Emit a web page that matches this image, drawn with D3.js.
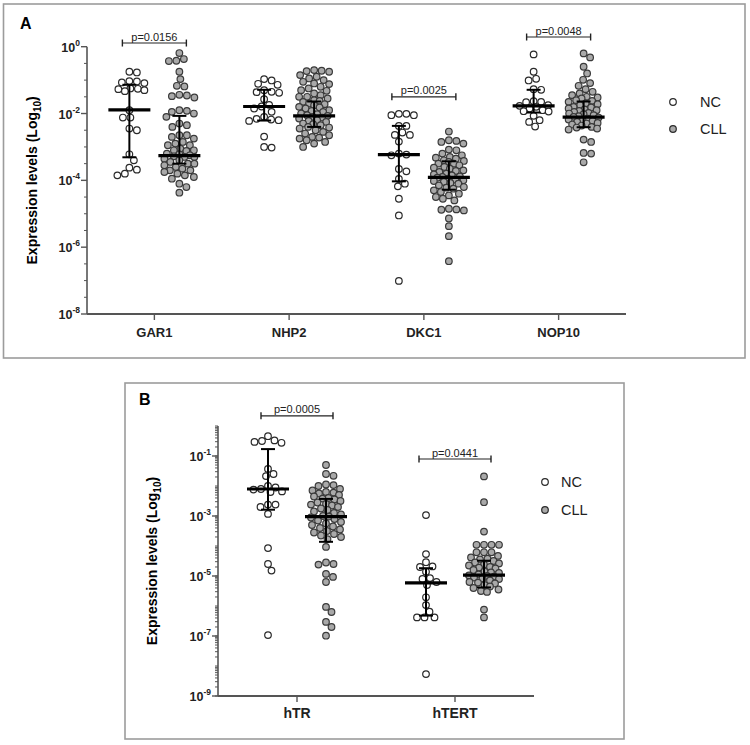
<!DOCTYPE html>
<html><head><meta charset="utf-8">
<script src="https://cdn.jsdelivr.net/npm/d3@7"></script>
<style>body{margin:0;background:#fff} svg{display:block} text{font-family:"Liberation Sans",Arial,sans-serif}</style>
</head><body><svg id="c" width="750" height="745"></svg>
<script>
// ---------- DATA (log10 of expression level) ----------
const genesA = ["GAR1","NHP2","DKC1","NOP10"];
const genesB = ["hTR","hTERT"];
const groups = ["NC","CLL"];
const yTicksA = [0,-2,-4,-6,-8];
const yTicksB = [-1,-3,-5,-7,-9];

const gar1NC = [-0.77,-0.75,-1.04,-1.07,-1.03,-1.09,-1.26,-1.3,-1.27,-1.33,-1.25,-1.9,-2.12,-2.12,-2.5,-2.45,-3.22,-3.4,-3.68,-3.85,-3.8,-3.62];
const gar1CLL = [-0.19,-0.43,-0.42,-0.37,-0.75,-0.97,-1.17,-1.19,-1.44,-1.48,-1.52,-1.46,-1.9,-1.95,-2.0,-1.92,-2.1,-2.4,-2.35,-2.3,-2.65,-2.7,-2.75,-2.65,-2.95,-2.95,-2.9,-2.85,-3.1,-3.1,-3.12,-3.05,-3.2,-3.25,-3.3,-3.28,-3.22,-3.35,-3.3,-3.4,-3.45,-3.5,-3.55,-3.6,-3.5,-3.65,-3.7,-3.75,-3.8,-3.85,-3.7,-3.9,-3.95,-4.1,-4.2,-4.37];
const nhp2NC = [-0.97,-1.01,-1.14,-1.11,-1.3,-1.35,-1.36,-1.38,-1.57,-1.74,-1.79,-1.85,-1.95,-2.1,-2.16,-2.18,-2.2,-2.22,-2.69,-3.02,-3.0];
const nhp2CLL = [-0.7,-0.72,-0.75,-0.73,-0.85,-0.9,-0.95,-1.0,-1.05,-1.1,-1.12,-1.2,-1.25,-1.3,-1.32,-1.4,-1.45,-1.5,-1.5,-1.55,-1.6,-1.62,-1.65,-1.7,-1.72,-1.75,-1.8,-1.82,-1.85,-1.9,-1.92,-1.95,-2.0,-2.02,-2.05,-2.07,-2.1,-2.12,-2.15,-2.2,-2.22,-2.25,-2.3,-2.32,-2.35,-2.4,-2.42,-2.45,-2.5,-2.55,-2.6,-2.65,-2.7,-2.75,-2.72,-2.8,-2.85,-2.9,-3.0];
const dkc1NC = [-2.05,-2.01,-2.01,-2.05,-2.37,-2.37,-2.64,-2.64,-2.57,-2.84,-3.2,-3.25,-3.23,-3.73,-3.66,-3.96,-4.1,-4.18,-4.55,-5.05,-7.01];
const dkc1CLL = [-2.54,-2.8,-2.85,-2.9,-2.82,-3.1,-3.08,-3.2,-3.25,-3.3,-3.32,-3.35,-3.4,-3.42,-3.45,-3.5,-3.5,-3.55,-3.6,-3.62,-3.65,-3.7,-3.72,-3.75,-3.8,-3.82,-3.85,-3.88,-3.9,-3.92,-3.95,-3.98,-4.0,-4.02,-4.05,-4.08,-4.1,-4.15,-4.2,-4.22,-4.25,-4.3,-4.35,-4.4,-4.45,-4.5,-4.55,-4.6,-4.85,-4.88,-4.9,-4.87,-5.14,-5.37,-5.67,-6.42];
const nop10NC = [-0.23,-0.75,-0.96,-1.01,-1.29,-1.27,-1.63,-1.66,-1.65,-1.77,-1.8,-1.9,-1.93,-1.94,-2.07,-2.2,-2.25,-2.39,-1.85,-1.75];
const nop10CLL = [-0.2,-0.32,-0.6,-0.8,-0.99,-1.09,-1.17,-1.27,-1.35,-1.4,-1.45,-1.5,-1.52,-1.55,-1.6,-1.62,-1.65,-1.7,-1.72,-1.75,-1.8,-1.82,-1.85,-1.88,-1.9,-1.92,-1.95,-1.98,-2.0,-2.02,-2.05,-2.08,-2.1,-2.12,-2.15,-2.18,-2.2,-2.22,-2.25,-2.28,-2.3,-2.33,-2.36,-2.4,-2.42,-2.45,-2.48,-2.78,-2.85,-3.18,-3.2,-3.46];
const htrNC = [-0.34,-0.53,-0.5,-0.56,-0.48,-1.43,-1.67,-1.6,-2.0,-2.05,-2.1,-2.12,-2.18,-2.2,-2.62,-2.62,-2.7,-2.93,-4.07,-4.6,-4.82,-6.97];
const htrCLL = [-1.3,-1.66,-1.6,-1.97,-1.95,-2.0,-2.1,-2.15,-2.2,-2.22,-2.25,-2.3,-2.35,-2.4,-2.42,-2.45,-2.5,-2.55,-2.6,-2.62,-2.65,-2.7,-2.75,-2.8,-2.85,-2.9,-2.95,-3.0,-3.02,-3.05,-3.1,-3.15,-3.2,-3.25,-3.3,-3.35,-3.4,-3.45,-3.5,-3.55,-3.6,-3.65,-3.7,-3.77,-4.03,-4.6,-4.55,-4.62,-4.93,-5.03,-5.2,-6.2,-6.03,-6.53,-6.7,-6.99];
const htertNC = [-2.97,-4.27,-4.54,-4.7,-4.68,-4.86,-5.1,-5.07,-5.2,-5.3,-5.71,-5.97,-6.19,-6.38,-6.38,-6.38,-8.27];
const htertCLL = [-1.68,-2.54,-3.52,-3.96,-3.96,-3.96,-3.96,-4.21,-4.21,-4.21,-4.33,-4.38,-4.42,-4.45,-4.5,-4.55,-4.58,-4.62,-4.65,-4.7,-4.72,-4.75,-4.8,-4.85,-4.88,-4.9,-4.95,-4.98,-5.0,-5.02,-5.05,-5.08,-5.1,-5.15,-5.2,-5.22,-5.25,-5.3,-5.35,-5.4,-5.45,-5.5,-5.53,-6.12,-6.38];

// median and interquartile range (log10), order NC, CLL per gene
const medianA = [[-1.89,-3.26],[-1.79,-2.07],[-3.23,-3.91],[-1.77,-2.11]];
const q3A     = [[-1.14,-2.07],[-1.29,-1.64],[-2.37,-3.43],[-1.29,-1.64]];
const q1A     = [[-3.31,-3.50],[-2.21,-2.40],[-4.03,-4.28],[-1.97,-2.41]];
const medianB = [[-2.10,-3.02],[-5.23,-4.97]];
const q3B     = [[-0.77,-2.43],[-4.74,-4.49]];
const q1B     = [[-2.79,-3.86],[-6.32,-5.38]];

// p-value brackets: gene, label, level (log10)
const pA = [["GAR1","p=0.0156",0.11],["DKC1","p=0.0025",-1.5],["NOP10","p=0.0048",0.29]];
const pB = [["hTR","p=0.0005",0.34],["hTERT","p=0.0441",-1.1]];

const dataA = [[gar1NC,gar1CLL],[nhp2NC,nhp2CLL],[dkc1NC,dkc1CLL],[nop10NC,nop10CLL]];
const dataB = [[htrNC,htrCLL],[htertNC,htertCLL]];

// ---------- DRAW ----------
const svg = d3.select("#c");
const R = 3.3, MIND = 7.4, W = 15;

function swarm(vals, y, cx){
  const pts = vals.map(v=>({v, y:y(Math.pow(10,v))})).sort((a,b)=>a.y-b.y);
  const placed=[];
  const cands=[0];
  for(let s=0.5;s<=W;s+=0.5){cands.push(s,-s);}
  for(const p of pts){
    let bestX=cx, bestD=-1, found=false;
    for(const off of cands){
      const x=cx+off;
      let md=1e9;
      for(const q of placed){
        const dx=q.x-x, dy=q.y-p.y;
        const d=Math.sqrt(dx*dx+dy*dy);
        if(d<md)md=d;
      }
      if(md>=MIND){p.x=x;found=true;break;}
      if(md>bestD+0.4){bestD=md;bestX=x;}
    }
    if(!found)p.x=bestX;
    placed.push(p);
  }
  return placed;
}

function panel(cfg){
  const g = svg.append("g");
  const x = d3.scaleBand().domain(cfg.genes).range(cfg.xr);
  const y = d3.scaleLog().domain(cfg.ydom).range(cfg.yr);
  const mid = d => x(d)+x.bandwidth()/2;
  g.append("rect").attr("x",cfg.box[0]).attr("y",cfg.box[1]).attr("width",cfg.box[2]).attr("height",cfg.box[3])
    .attr("fill","none").attr("stroke","#9c9c9c").attr("stroke-width",1.6);
  g.append("text").attr("x",cfg.lab[0]).attr("y",cfg.lab[1]).text(cfg.label)
    .attr("font-size",16).attr("font-weight","bold");
  const ax = cfg.xr[0];
  g.append("line").attr("x1",ax).attr("x2",ax).attr("y1",cfg.yr[0]).attr("y2",cfg.yr[1]).attr("stroke","#555").attr("stroke-width",1.6);
  g.selectAll(".mn").data(cfg.minor).join("line").attr("x1",ax-3).attr("x2",ax).attr("y1",d=>y(d)).attr("y2",d=>y(d)).attr("stroke","#555").attr("stroke-width",1);
  g.selectAll(".mj").data(cfg.ticks).join("line").attr("x1",ax-6).attr("x2",ax).attr("y1",d=>y(Math.pow(10,d))).attr("y2",d=>y(Math.pow(10,d))).attr("stroke","#555").attr("stroke-width",1.4);
  const tl = g.selectAll(".tl").data(cfg.ticks).join("text").attr("x",ax-7).attr("y",d=>y(Math.pow(10,d))+5)
    .attr("text-anchor","end").attr("font-size",12.5).attr("font-weight","bold").attr("fill","#222");
  tl.append("tspan").text("10");
  tl.append("tspan").text(d=>d===0?"0":"-"+(-d)).attr("font-size",8.5).attr("dy",-6);
  const yt = g.append("text").attr("transform",`translate(${cfg.ytx},${(cfg.yr[0]+cfg.yr[1])/2}) rotate(-90)`)
    .attr("text-anchor","middle").attr("font-size",14).attr("font-weight","bold");
  yt.append("tspan").text("Expression levels (Log");
  yt.append("tspan").text("10").attr("font-size",10).attr("dy",4);
  yt.append("tspan").text(")").attr("dy",-4);
  g.append("line").attr("x1",cfg.xr[0]).attr("x2",cfg.xr[1]).attr("y1",cfg.yr[0]).attr("y2",cfg.yr[0]).attr("stroke","#555").attr("stroke-width",1.8);
  g.selectAll(".xt").data(cfg.genes).join("line").attr("x1",mid).attr("x2",mid).attr("y1",cfg.yr[0]).attr("y2",cfg.yr[0]+6).attr("stroke","#555").attr("stroke-width",1.4);
  g.selectAll(".xl").data(cfg.genes).join("text").attr("x",mid).attr("y",cfg.yr[0]+cfg.xlOff).attr("text-anchor","middle")
    .attr("font-size",cfg.xlSize).attr("font-weight","bold").attr("fill","#222").text(d=>d);
  cfg.genes.forEach((gene,gi)=>{
    groups.forEach((grp,k)=>{
      const cx = mid(gene)+(k===0?-cfg.off:cfg.off);
      const pts = swarm(cfg.data[gi][k], y, cx);
      g.append("g").selectAll("circle").data(pts).join("circle").attr("cx",d=>d.x).attr("cy",d=>d.y).attr("r",R)
        .attr("fill",k===0?"#fff":"#a9a9a9").attr("stroke",k===0?"#2a2a2a":"#3a3a3a").attr("stroke-width",1.2);
    });
  });
  cfg.genes.forEach((gene,gi)=>{
    groups.forEach((grp,k)=>{
      const cx = mid(gene)+(k===0?-cfg.off:cfg.off);
      const ym = y(Math.pow(10,cfg.med[gi][k])), yh=y(Math.pow(10,cfg.q3[gi][k])), yl=y(Math.pow(10,cfg.q1[gi][k]));
      g.append("line").attr("x1",cx).attr("x2",cx).attr("y1",yh).attr("y2",yl).attr("stroke","#000").attr("stroke-width",2);
      [yh,yl].forEach(yy=>g.append("line").attr("x1",cx-7).attr("x2",cx+7).attr("y1",yy).attr("y2",yy).attr("stroke","#000").attr("stroke-width",2));
      g.append("line").attr("x1",cx-21).attr("x2",cx+21).attr("y1",ym).attr("y2",ym).attr("stroke","#000").attr("stroke-width",3.2);
    });
  });
  cfg.p.forEach(([gene,lab,lv])=>{
    const x1 = mid(gene)-cfg.off-7, x2 = mid(gene)+cfg.off+7, yy = y(Math.pow(10,lv));
    g.append("line").attr("x1",x1).attr("x2",x2).attr("y1",yy).attr("y2",yy).attr("stroke","#222").attr("stroke-width",1.2);
    [x1,x2].forEach(xx=>g.append("line").attr("x1",xx).attr("x2",xx).attr("y1",yy-3.5).attr("y2",yy+3.5).attr("stroke","#222").attr("stroke-width",1.4));
    g.append("text").attr("x",(x1+x2)/2).attr("y",yy-2.5).attr("text-anchor","middle").attr("font-size",11).attr("fill","#222").text(lab);
  });
  groups.forEach((grp,k)=>{
    g.append("circle").attr("cx",cfg.leg[0]).attr("cy",cfg.leg[1]+k*cfg.leg[2]).attr("r",R)
      .attr("fill",k===0?"#fff":"#a9a9a9").attr("stroke","#2a2a2a").attr("stroke-width",1.2);
    g.append("text").attr("x",cfg.leg[0]+cfg.leg[3]).attr("y",cfg.leg[1]+k*cfg.leg[2]+5).attr("font-size",14.5).attr("fill","#222").text(grp);
  });
}

function minorHalf(lo,hi){const a=[];for(let e=lo;e<hi;e+=0.5){if(Math.abs(e%2)>0.01)a.push(Math.pow(10,e));}return a;}
function minorLog(lo,hi){const a=[];for(let e=lo;e<hi;e++){for(let m=1;m<=9;m++)a.push(m*Math.pow(10,e));}a.push(Math.pow(10,hi));return a;}

panel({genes:genesA,xr:[87,626],ydom:[1e-8,1],yr:[314,46.7],box:[3.5,4,741.5,354],lab:[20,29],label:"A",
  ticks:yTicksA,minor:minorHalf(-8,0),ytx:37,xlOff:23,xlSize:13,off:25,data:dataA,med:medianA,q3:q3A,q1:q1A,p:pA,leg:[673,102,27,27]});
panel({genes:genesB,xr:[218,534],ydom:[1e-9,1],yr:[696,426],box:[125,383,499,356],lab:[139,405],label:"B",
  ticks:yTicksB,minor:minorLog(-9,0),ytx:157,xlOff:22,xlSize:14,off:29,data:dataB,med:medianB,q3:q3B,q1:q1B,p:pB,leg:[545,482,28,16]});
</script></body></html>
